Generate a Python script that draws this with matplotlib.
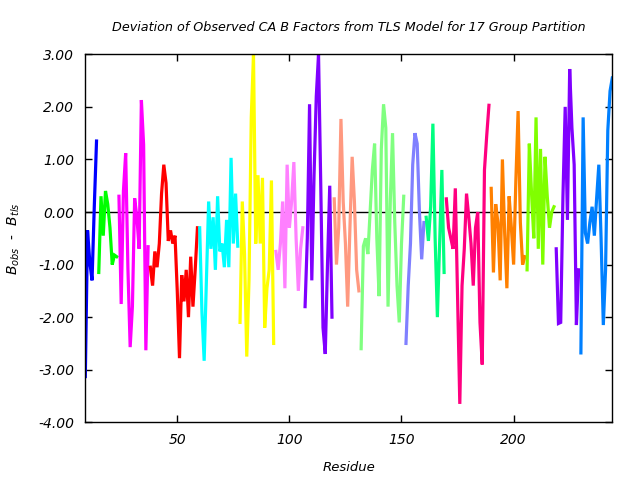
import matplotlib
matplotlib.use("Agg")
import matplotlib.pyplot as plt

# 17 TLS groups: first residue of each group and the B_obs - B_tls values
group_start = [9, 15, 24, 38, 60, 78, 94, 107, 120, 132, 152, 161, 170, 190, 206, 219, 230]

group_colors = ['#0000ff', '#00ff00', '#ff00ff', '#ff0000', '#00ffff', '#ffff00',
                '#ff80ff', '#8000ff', '#ff9980', '#80ff80', '#8080ff', '#00ff80',
                '#ff0080', '#ff8000', '#80ff00', '#8000ff', '#0080ff']

g01 = [-3.13, -0.35, -0.95, -1.3, 0.1, 1.35]
g02 = [-1.15, 0.3, -0.45, 0.4, 0.15, -0.3, -1.0, -0.82, -0.85]
g03 = [0.3, -1.75, 0.4, 1.12, -1.07, -2.57, -1.8, 0.26, -0.1, -0.7, 2.13, 1.28, -2.63, -0.66]
g04 = [-1.05, -1.4, -0.75, -1.05, -0.6, 0.35, 0.9, 0.55, -0.55, -0.35, -0.6, -0.45,
       -1.5, -2.78, -1.2, -1.7, -1.1, -2.0, -0.85, -1.8, -1.1, -0.3]
g05 = [-0.3, -1.9, -2.83, -1.3, 0.2, -0.7, -0.1, -1.1, 0.3, -0.75, -0.6, -1.05,
       -0.15, -1.05, 1.03, -0.6, 0.35, -0.65]
g06 = [-2.1, 0.2, -0.8, -2.75, -1.3, 1.8, 3.0, -0.6, 0.7, -0.6, 0.65, -2.2,
       -1.45, -1.1, 0.6, -2.5]
g07 = [-0.75, -1.1, -0.6, 0.2, -1.45, 0.9, -0.3, 0.2, 0.95, -0.5, -1.5, -0.7, -0.3]
g08 = [-1.8, -0.5, 2.05, -1.3, 0.7, 2.2, 3.0, 0.5, -2.2, -2.7, -1.0, 0.5, -2.0]
g09 = [0.25, -1.0, -0.3, 1.77, 0.2, -0.6, -1.8, -0.3, 1.05, 0.2, -1.1, -1.5]
g10 = [-2.6, -0.65, -0.5, -0.8, 0.0, 0.8, 1.3, -0.5, -1.6, 1.2, 2.05, 1.6,
       -1.8, 0.2, 1.5, -0.2, -1.4, -2.1, -0.6, 0.3]
g11 = [-2.5, -1.4, -0.6, 0.9, 1.5, 1.3, 0.0, -0.9, -0.2]
g12 = [-0.1, -0.55, 0.1, 1.68, -0.5, -2.0, -0.6, 0.8, -1.15]
g13 = [0.25, -0.3, -0.5, -0.7, 0.45, -1.6, -3.65, -1.4, -0.7, 0.35, -0.1, -0.6,
       -1.4, -0.3, 0.0, -2.1, -2.9, 0.8, 1.45, 2.03]
g14 = [0.45, -1.15, 0.15, -0.2, -1.3, 1.0, -0.4, -1.45, 0.3, -0.3, -1.0, 0.6,
       1.92, -0.2, -1.0, -0.85]
g15 = [-1.1, 1.3, 0.35, -0.5, 1.8, -0.7, 1.2, -1.0, 1.05, 0.3, -0.3, 0.0, 0.1]
g16 = [-0.7, -2.12, -2.1, 0.3, 2.0, -0.15, 2.72, 1.6, 0.9, -2.15, -1.1]
g17 = [-2.68, 1.8, -0.4, -0.6, -0.2, 0.1, -0.45, 0.25, 0.9, -0.5, -2.15, -1.1,
       1.55, 2.3, 2.55]

groups = [g01, g02, g03, g04, g05, g06, g07, g08, g09, g10, g11, g12, g13, g14, g15, g16, g17]

y_ticks = [3, 2, 1, 0, -1, -2, -3, -4]
x_ticks = [50, 100, 150, 200]


def draw_chart():
    fig = plt.figure(figsize=(6.4, 4.8), dpi=100)
    ax = fig.add_axes([0.1333, 0.1202, 0.8234, 0.7667])

    ax.axhline(0, color='black', lw=1.0, zorder=1)
    for start, vals, col in zip(group_start, groups, group_colors):
        res = list(range(start, start + len(vals)))
        ax.plot(res, vals, color=col, lw=2.3, solid_joinstyle='miter', zorder=2)

    ax.set_xlim(9, 244)
    ax.set_ylim(-4, 3)
    ax.set_xticks(x_ticks)
    ax.set_yticks(y_ticks)
    ax.set_yticklabels(['%.2f' % v for v in y_ticks])
    ax.tick_params(direction='in', length=5, width=1, top=True, right=True,
                   labelsize=10, pad=8)
    for lab in ax.get_xticklabels() + ax.get_yticklabels():
        lab.set_fontstyle('italic')
    for sp in ax.spines.values():
        sp.set_linewidth(1.0)

    ax.set_title('Deviation of Observed CA B Factors from TLS Model for 17 Group Partition',
                 fontsize=9.2, fontstyle='italic', pad=17)
    ax.set_xlabel('Residue', fontsize=9.5, fontstyle='italic', labelpad=10)
    ax.set_ylabel(r'$B_{obs}$  -  $B_{tls}$', fontsize=10, labelpad=12)

    fig.savefig('out.png', dpi=100)
    plt.close(fig)


if __name__ == '__main__':
    draw_chart()
